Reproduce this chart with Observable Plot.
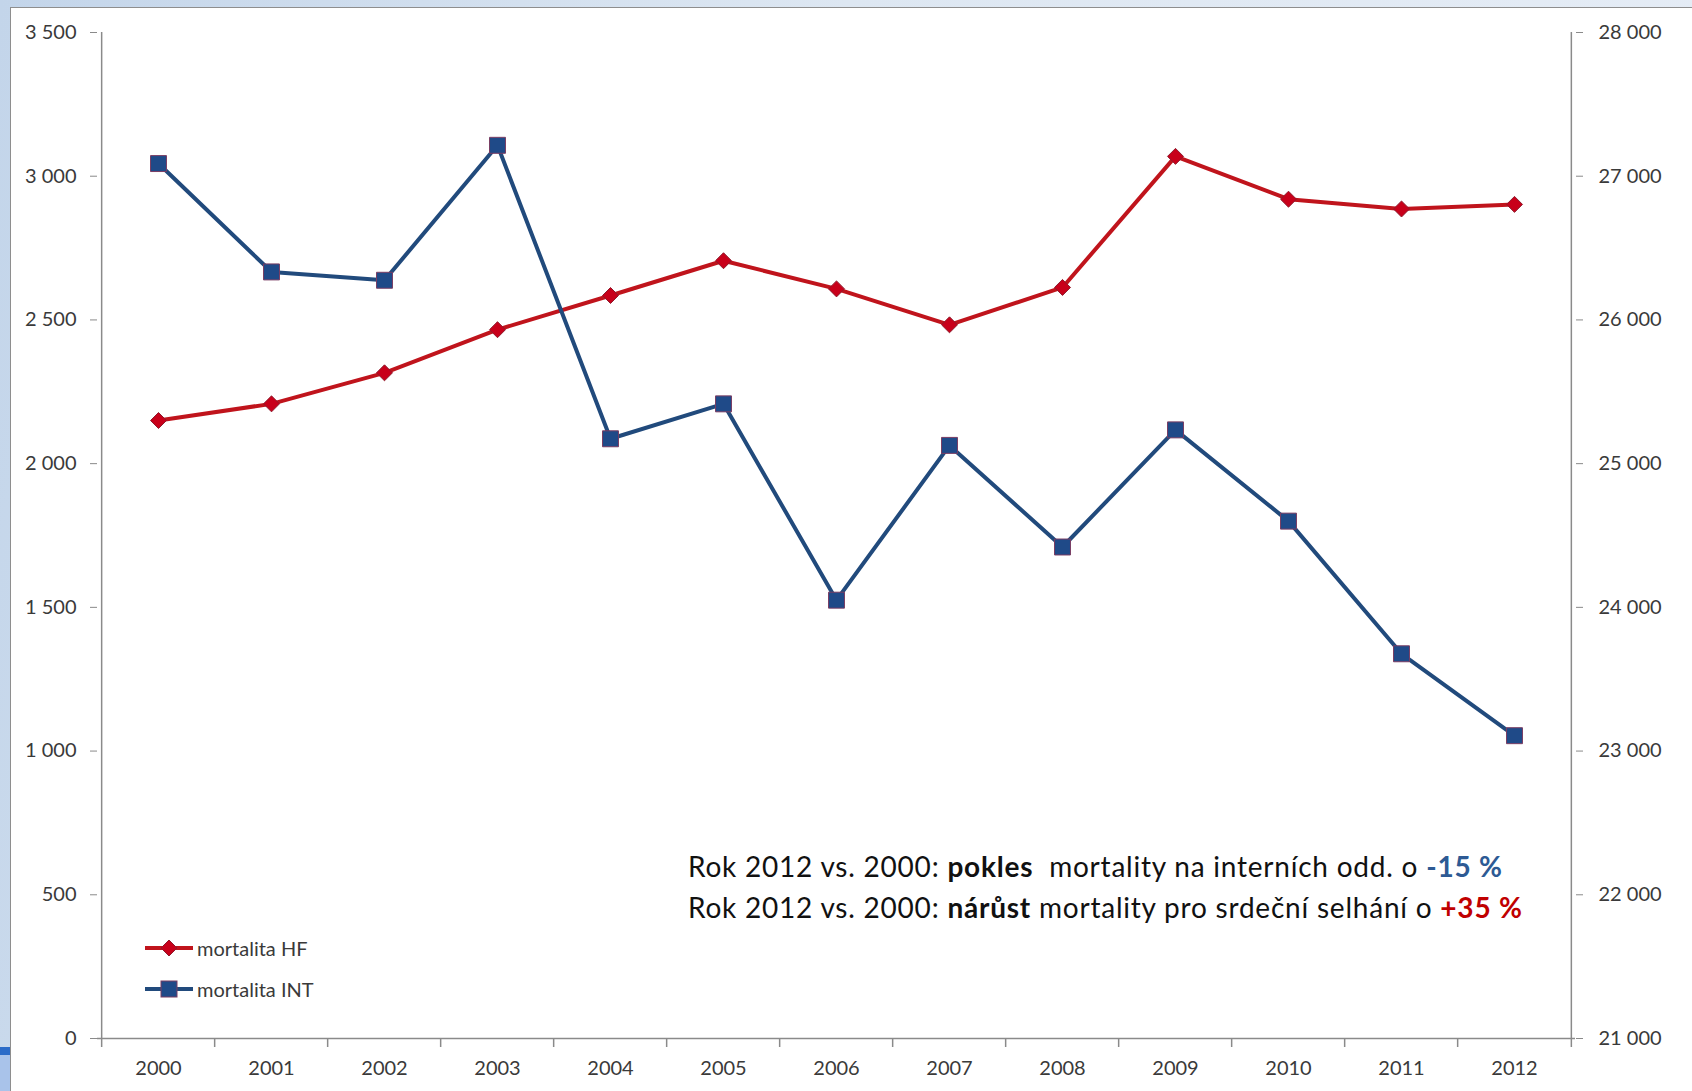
<!DOCTYPE html>
<html>
<head>
<meta charset="utf-8">
<script src="https://cdn.jsdelivr.net/npm/d3@7"></script>
<script src="https://cdn.jsdelivr.net/npm/@observablehq/plot@0.6"></script>
<style>
  html, body { margin: 0; padding: 0; }
  body {
    width: 1692px; height: 1091px; overflow: hidden; position: relative;
    background: linear-gradient(100deg, #c3d5ea 0%, #dde7f2 45%, #e6edf6 100%);
    font-family: Lato, "Open Sans", sans-serif;
  }
  #stripe1 { position: absolute; left: 0; top: 1047px; width: 10px; height: 8px; background: #2c6cc8; }
  #stripe2 { position: absolute; left: 0; top: 1055px; width: 10px; height: 36px; background: #a9c3ea; }
  #card {
    position: absolute; left: 10px; top: 7px; width: 1682px; height: 1084px;
    background: #fff; border-left: 1px solid #8e8e8e; border-top: 1px solid #8e8e8e;
    box-sizing: border-box;
  }
  #chart { position: absolute; left: -1px; top: -1px; }
  .legend { position: absolute; left: 134px; font-size: 20px; color: #3a3a3a; }
  .legend .row { display: flex; align-items: center; height: 20px; line-height: 20px; position: absolute; white-space: nowrap; }
  .legend svg { display: block; margin-right: 4px; }
  .note {
    position: absolute; left: 677px; top: 838px; font-size: 28px; line-height: 41px;
    letter-spacing: 0.78px; color: #111; white-space: pre;
  }
  .note b { font-weight: 700; }
  .neg { color: #2d5a94; font-weight: 700; }
  .pos { color: #c00000; font-weight: 700; }
</style>
</head>
<body>
<div id="stripe1"></div>
<div id="stripe2"></div>
<div id="card">
  <div id="chart"></div>
  <div class="legend" id="legend"></div>
  <div class="note"><div>Rok 2012 vs. 2000: <b>pokles</b>  mortality na interních odd. o <span class="neg">-15 %</span></div><div>Rok 2012 vs. 2000: <b>nárůst</b> mortality pro srdeční selhání o <span class="pos">+35 %</span></div></div>
</div>
<script>
// Years on the category axis
const years = ["2000", "2001", "2002", "2003", "2004", "2005", "2006",
               "2007", "2008", "2009", "2010", "2011", "2012"];

// Heart-failure mortality (left axis)
const mortalitaHF = [2150, 2208, 2316, 2466, 2585, 2706, 2608, 2483, 2613, 3069, 2920, 2886, 2902];

// Mortality on internal medicine wards (right axis)
const mortalitaINT = [27088, 26334, 26276, 27215, 25173, 25416, 24050, 25127, 24420, 25235, 24600, 23677, 23107];

// Tick values for both value axes
const leftTicks = [0, 500, 1000, 1500, 2000, 2500, 3000, 3500];
const rightTicks = [21000, 22000, 23000, 24000, 25000, 26000, 27000, 28000];

// Series names and styles
const seriesHF = "mortalita HF";
const seriesINT = "mortalita INT";
const redLine = "#c0141c", redFill = "#c8001a", redEdge = "#8e1a2c";
const blueLine = "#214a7c", blueFill = "#1f4a88", blueEdge = "#7a3d63";
const axisColor = "#8a8a8a";

// The right axis shares the plot's y scale: 21 000..28 000 maps onto 0..3 500
const rightMin = 21000, rightFactor = 2;
const toLeft = (v) => (v - rightMin) / rightFactor;
const toRight = (v) => v * rightFactor + rightMin;

const fmt = (v) => d3.format(",")(v).replace(/,/g, " ");

const hfData = years.map((year, i) => ({year, value: mortalitaHF[i]}));
const intData = years.map((year, i) => ({year, value: mortalitaINT[i]}));

const W = 1682, H = 1084;
const mL = 87, mR = 117, mT = 25, mB = 53;
const step = (W - mL - mR) / years.length;

const chart = Plot.plot({
  width: W,
  height: H,
  marginLeft: mL,
  marginRight: mR,
  marginTop: mT,
  marginBottom: mB,
  style: {fontFamily: "Lato, 'Open Sans', sans-serif", fontSize: "20px", color: "#3a3a3a", background: "transparent", overflow: "visible"},
  x: {type: "point", domain: years, padding: 0.5, label: null},
  y: {domain: [0, 3500], label: null},
  marks: [
    // left axis
    Plot.axisY(leftTicks, {anchor: "left", tickSize: 7, tickPadding: 14, tickFormat: fmt, stroke: axisColor, fill: "#3a3a3a", label: null}),
    // right axis, labelled in its own units
    Plot.axisY(rightTicks.map(toLeft), {anchor: "right", tickSize: 7, tickPadding: 16, tickFormat: (d) => fmt(toRight(d)), stroke: axisColor, fill: "#3a3a3a", label: null}),
    // category labels
    Plot.axisX({tickSize: 0, tickPadding: 22, fill: "#3a3a3a", label: null}),
    // axis lines
    Plot.ruleY([0], {stroke: axisColor, strokeWidth: 1.5}),
    Plot.ruleX([years[0]], {dx: -step / 2, stroke: axisColor, strokeWidth: 1.5}),
    Plot.ruleX([years[years.length - 1]], {dx: step / 2, stroke: axisColor, strokeWidth: 1.5}),
    // category boundary ticks below the x axis
    Plot.ruleX(years, {x: (d) => d, y1: 0, y2: 0, dx: -step / 2, insetBottom: -9, stroke: axisColor, strokeWidth: 1.5}),
    Plot.ruleX([years[years.length - 1]], {x: (d) => d, y1: 0, y2: 0, dx: step / 2, insetBottom: -9, stroke: axisColor, strokeWidth: 1.5}),
    // heart failure
    Plot.line(hfData, {x: "year", y: "value", stroke: redLine, strokeWidth: 4, strokeLinejoin: "round"}),
    Plot.dot(hfData, {x: "year", y: "value", symbol: "diamond2", r: 7.2, fill: redFill, stroke: redEdge, strokeWidth: 1}),
    // internal wards, on the right scale
    Plot.line(intData, {x: "year", y: (d) => toLeft(d.value), stroke: blueLine, strokeWidth: 4, strokeLinejoin: "round"}),
    Plot.dot(intData, {x: "year", y: (d) => toLeft(d.value), symbol: "square", r: 9, fill: blueFill, stroke: blueEdge, strokeWidth: 1})
  ]
});
document.getElementById("chart").append(chart);

// Legend
const legend = d3.select("#legend");
const entries = [
  {name: seriesHF, line: redLine, fill: redFill, edge: redEdge, shape: "diamond", top: 930},
  {name: seriesINT, line: blueLine, fill: blueFill, edge: blueEdge, shape: "square", top: 971}
];
for (const e of entries) {
  const row = legend.append("div").attr("class", "row").style("top", e.top + "px");
  const svg = row.append("svg").attr("width", 48).attr("height", 20);
  svg.append("line").attr("x1", 0).attr("x2", 48).attr("y1", 10).attr("y2", 10)
    .attr("stroke", e.line).attr("stroke-width", 4);
  if (e.shape === "diamond") {
    svg.append("path").attr("d", "M24,2L32,10L24,18L16,10Z").attr("fill", e.fill).attr("stroke", e.edge);
  } else {
    svg.append("rect").attr("x", 16).attr("y", 2).attr("width", 16).attr("height", 16)
      .attr("fill", e.fill).attr("stroke", e.edge);
  }
  row.append("span").text(e.name);
}
</script>
</body>
</html>
